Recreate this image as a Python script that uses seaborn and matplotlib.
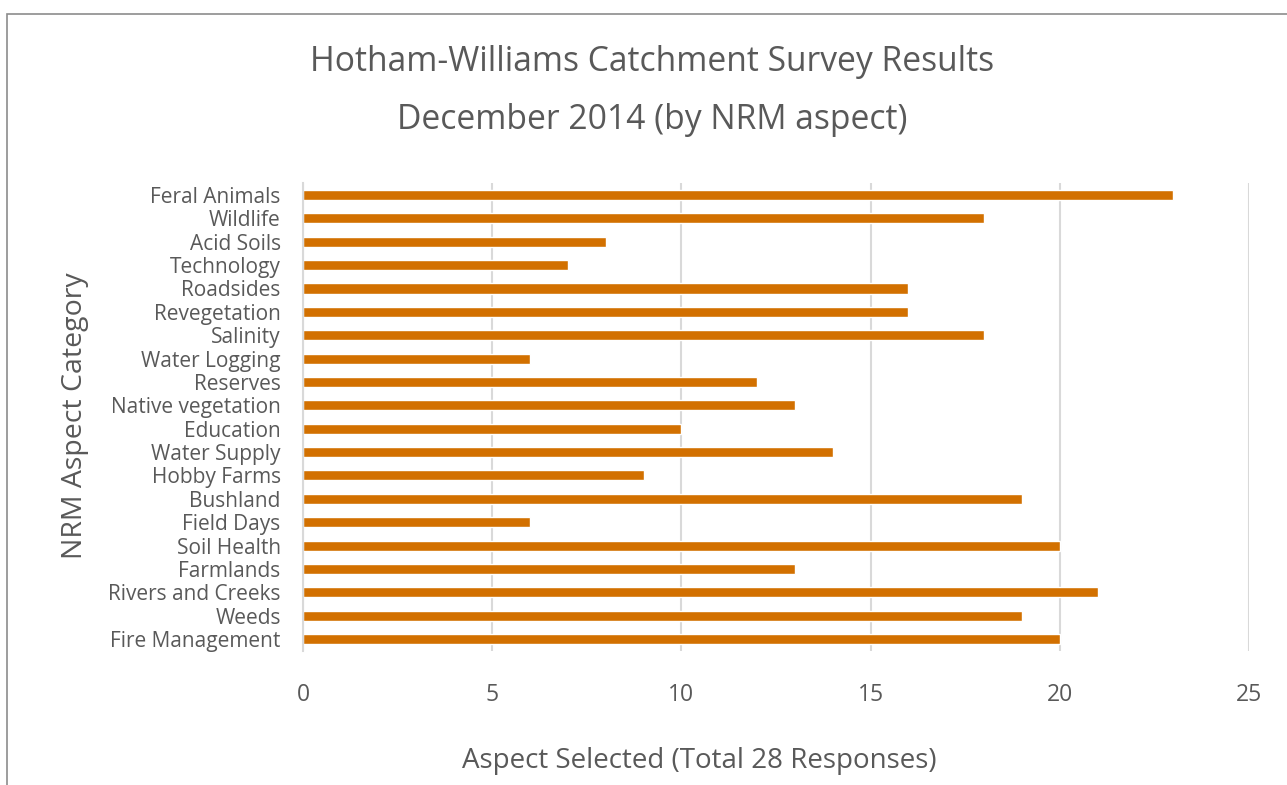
import matplotlib
matplotlib.use("Agg")
import matplotlib.pyplot as plt
import seaborn as sns
import pandas as pd
from matplotlib.patches import Rectangle

categories = ['Feral Animals', 'Wildlife', 'Acid Soils', 'Technology', 'Roadsides',
              'Revegetation', 'Salinity', 'Water Logging', 'Reserves', 'Native vegetation',
              'Education', 'Water Supply', 'Hobby Farms', 'Bushland', 'Field Days',
              'Soil Health', 'Farmlands', 'Rivers and Creeks', 'Weeds', 'Fire Management']
counts = [23, 18, 8, 7, 16, 16, 18, 6, 12, 13, 10, 14, 9, 19, 6, 20, 13, 21, 19, 20]
xticks = [0, 5, 10, 15, 20, 25]

df = pd.DataFrame({'cat': categories, 'n': counts})

sns.set_style('white')
plt.rcParams['font.family'] = ['Open Sans', 'DejaVu Sans']
txt = '#595959'

fig = plt.figure(figsize=(12.87, 7.85), dpi=100)
ax = fig.add_axes([0.2354, 0.171, 0.7351, 0.5955])

sns.barplot(data=df, x='n', y='cat', color='#D27000', width=0.43,
            saturation=1, ax=ax, order=categories)

ax.set_xlim(0, 25)
ax.set_xticks(xticks)
ax.set_ylim(19.5, -0.5)
ax.grid(axis='x', color='#D9D9D9', linewidth=1.5)
ax.set_axisbelow(True)
for s in ['top', 'right', 'bottom']:
    ax.spines[s].set_visible(False)
ax.spines['left'].set_color('#D9D9D9')
ax.spines['left'].set_linewidth(1.5)
ax.tick_params(axis='x', length=0, labelsize=16.5, labelcolor=txt, pad=23)
ax.tick_params(axis='y', length=0, labelsize=15, labelcolor=txt, pad=16)
ax.set_xlabel('')
ax.set_ylabel('')

fig.text(0.507, 0.921, 'Hotham-Williams Catchment Survey Results', ha='center', va='center',
         fontsize=24.2, color=txt)
fig.text(0.507, 0.847, 'December 2014 (by NRM aspect)', ha='center', va='center',
         fontsize=24.2, color=txt)
fig.text(0.543, 0.030, 'Aspect Selected (Total 28 Responses)', ha='center', va='center',
         fontsize=20, color=txt)
fig.text(0.058, 0.471, 'NRM Aspect Category', ha='center', va='center', rotation=90,
         fontsize=20.5, color=txt)

fig.patches.append(Rectangle((7 / 1287, -0.05), 1.2, 1 - 14 / 785 + 0.05,
                             transform=fig.transFigure, fill=False,
                             edgecolor='#8C8C8C', linewidth=1.2, clip_on=False))

fig.savefig('out.png', dpi=100)
